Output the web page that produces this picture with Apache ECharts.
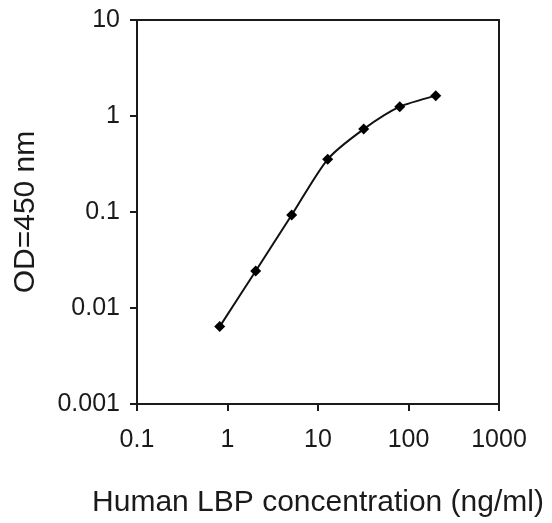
<!DOCTYPE html>
<html>
<head>
<meta charset="utf-8">
<script src="https://cdn.jsdelivr.net/npm/echarts@6/dist/echarts.min.js"></script>
<style>
html,body{margin:0;padding:0;background:#fff;}
#chart{width:552px;height:523px;}
</style>
</head>
<body>
<div id="chart"></div>
<script>
// Data
const concentration = [0.82, 2.05, 5.12, 12.8, 32, 80, 200];
const odValues = [0.0064, 0.0243, 0.093, 0.354, 0.73, 1.25, 1.63];
const xTickLabels = ['0.1', '1', '10', '100', '1000'];
const yTickLabels = ['0.001', '0.01', '0.1', '1', '10'];
const xName = 'Human LBP concentration (ng/ml)';
const yName = 'OD=450 nm';

const points = concentration.map((c, i) => [c, odValues[i]]);
const font = '"Liberation Sans", Arial, sans-serif';
const ink = '#1a1a1a';

function fmt(v) {
  const all = xTickLabels.concat(yTickLabels);
  for (const s of all) { if (Math.abs(parseFloat(s) - v) / v < 1e-6) return s; }
  return String(v);
}

const chart = echarts.init(document.getElementById('chart'), null, {renderer: 'canvas'});
chart.setOption({
  animation: false,
  backgroundColor: '#fff',
  grid: {left: 137, right: 53, top: 20, bottom: 119, containLabel: false, outerBoundsMode: 'none'},
  xAxis: [{
    type: 'log', logBase: 10, min: 0.1, max: 1000,
    name: xName, nameLocation: 'middle', nameGap: 84,
    nameTextStyle: {fontFamily: font, fontSize: 30, color: ink},
    axisLine: {lineStyle: {color: ink, width: 2}},
    axisTick: {show: true, length: 7, lineStyle: {color: ink, width: 2}},
    minorTick: {show: false},
    splitLine: {show: false},
    axisLabel: {fontFamily: font, fontSize: 25, color: ink, margin: 24, formatter: fmt}
  }, {
    type: 'log', logBase: 10, min: 0.1, max: 1000, position: 'top',
    axisLine: {show: true, lineStyle: {color: ink, width: 2}},
    axisTick: {show: false}, axisLabel: {show: false}, splitLine: {show: false}
  }],
  yAxis: [{
    type: 'log', logBase: 10, min: 0.001, max: 10,
    name: yName, nameLocation: 'middle', nameGap: 96, nameRotate: 90,
    nameTextStyle: {fontFamily: font, fontSize: 30, color: ink},
    axisLine: {show: true, lineStyle: {color: ink, width: 2}},
    axisTick: {show: true, length: 7, lineStyle: {color: ink, width: 2}},
    splitLine: {show: false},
    axisLabel: {fontFamily: font, fontSize: 25, color: ink, margin: 17, formatter: fmt}
  }, {
    type: 'log', logBase: 10, min: 0.001, max: 10, position: 'right',
    axisLine: {show: true, lineStyle: {color: ink, width: 2}},
    axisTick: {show: false}, axisLabel: {show: false}, splitLine: {show: false}
  }],
  series: [{
    type: 'line',
    data: points,
    smooth: 0.25,
    symbol: 'diamond',
    symbolSize: 11,
    itemStyle: {color: '#000'},
    lineStyle: {color: '#111', width: 2}
  }]
});
</script>
</body>
</html>
